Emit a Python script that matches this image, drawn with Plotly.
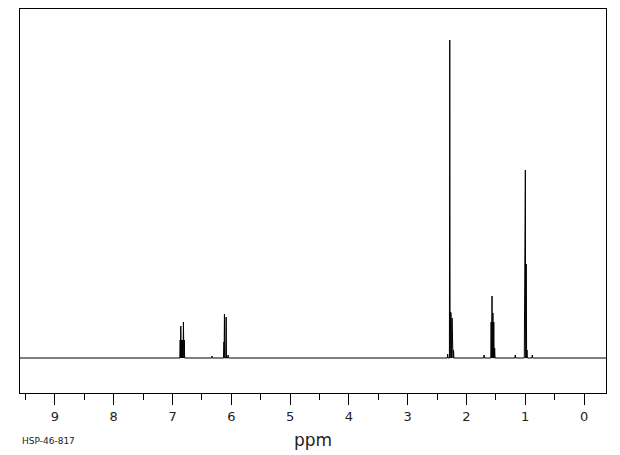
import plotly.graph_objects as go

# peak lines: chemical shift (ppm) and height (baseline = 0)
peak_ppm = [6.87, 6.86, 6.845, 6.83, 6.815, 6.80,
            6.33,
            6.125, 6.117, 6.088, 6.055,
            2.32, 2.284, 2.27, 2.26, 2.245, 2.235, 2.22,
            1.70, 1.58, 1.565, 1.55, 1.535, 1.52,
            1.17, 1.01, 0.998, 0.983, 0.97, 0.88]
peak_height = [18, 32, 18, 18, 36, 18,
               2,
               16, 44, 41, 3,
               4, 318, 46, 44, 40, 28, 8,
               3, 36, 62, 45, 36, 10,
               3, 110, 188, 94, 8, 3]

tick_values = [9, 8, 7, 6, 5, 4, 3, 2, 1, 0]
tick_labels = ["9", "8", "7", "6", "5", "4", "3", "2", "1", "0"]

X_LEFT, X_RIGHT = 9.595, -0.374
HALF_WIDTH = 0.006

# trace the spectrum from left (high ppm) to right as a line through each peak
xs = [X_LEFT]
ys = [0]
for p, h in sorted(zip(peak_ppm, peak_height), reverse=True):
    xs += [p + HALF_WIDTH, p, p - HALF_WIDTH]
    ys += [0, h, 0]
xs.append(X_RIGHT)
ys.append(0)

fig = go.Figure()
fig.add_trace(go.Scatter(
    x=xs,
    y=ys,
    mode="lines",
    line=dict(color="black", width=1),
    hoverinfo="skip"
))

# page body has an 8px margin, so the figure is a bit smaller than the window
fig.update_layout(
    width=612,
    height=447,
    margin=dict(l=12, r=14, t=1, b=62, autoexpand=False),
    paper_bgcolor="white",
    plot_bgcolor="white",
    showlegend=False,
    font=dict(family="DejaVu Sans", color="#222222")
)

fig.update_xaxes(
    range=[X_LEFT, X_RIGHT],
    tickmode="array",
    tickvals=tick_values,
    ticktext=tick_labels,
    ticks="outside",
    ticklen=11,
    tickwidth=1,
    tickcolor="black",
    tickfont=dict(size=13),
    minor=dict(dtick=0.5, tick0=0, ticks="outside", ticklen=6,
               tickcolor="black", tickwidth=1),
    showline=True,
    linecolor="black",
    linewidth=1,
    mirror=True,
    showgrid=False,
    zeroline=False,
    automargin=False,
    title=dict(text="ppm", font=dict(size=17), standoff=11)
)

fig.update_yaxes(
    range=[-35, 349],
    showline=True,
    linecolor="black",
    linewidth=1,
    mirror=True,
    showgrid=False,
    zeroline=False,
    showticklabels=False,
    automargin=False,
    ticks=""
)

fig.add_annotation(
    text="HSP-46-817",
    xref="paper", yref="paper",
    x=0, y=-0.125,
    xanchor="left", yanchor="middle",
    showarrow=False,
    font=dict(size=9, color="#222222")
)

fig.write_html("out.html")
